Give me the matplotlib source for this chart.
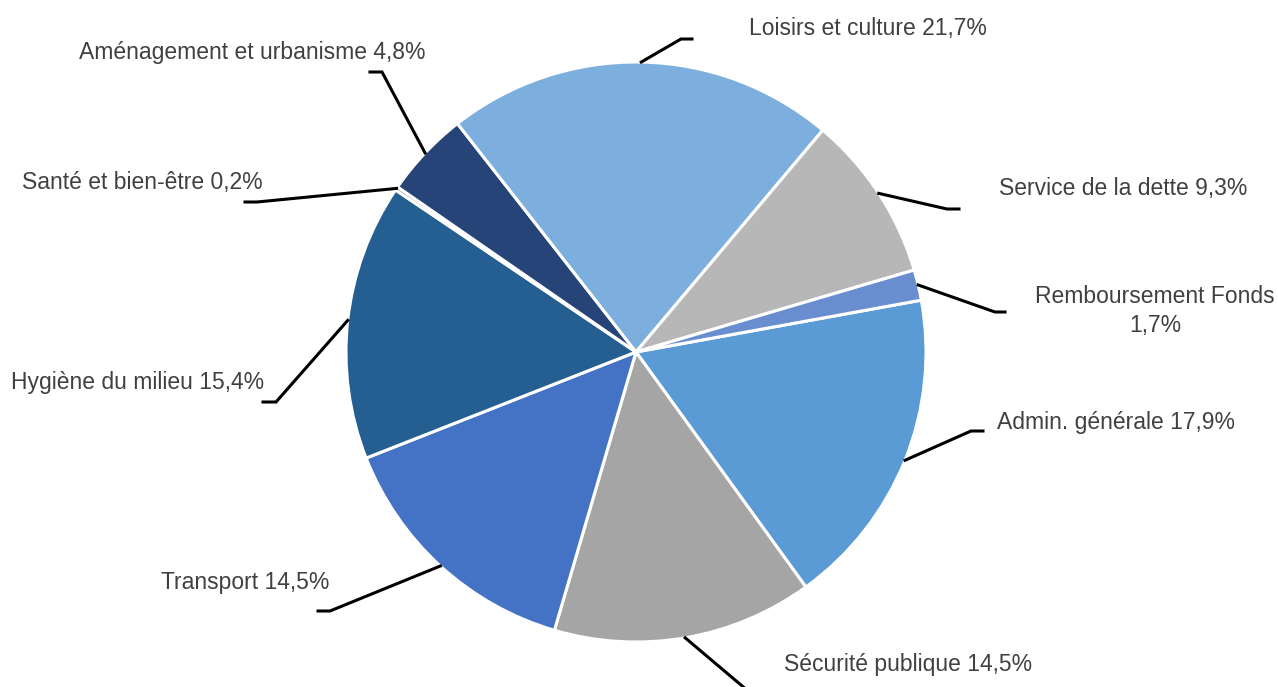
import matplotlib.pyplot as plt
import numpy as np

plt.rcParams['font.family'] = ['Liberation Sans', 'DejaVu Sans']

# Data, in the order of the slices (clockwise)
categories = ['Admin. générale', 'Sécurité publique', 'Transport', 'Hygiène du milieu',
              'Santé et bien-être', 'Aménagement et urbanisme', 'Loisirs et culture',
              'Service de la dette', 'Remboursement Fonds']
shares = [17.9, 14.5, 14.5, 15.4, 0.2, 4.8, 21.7, 9.3, 1.7]
colors = ['#5B9BD5', '#A5A5A5', '#4472C4', '#255E91', '#636363',
          '#264478', '#7CAFDD', '#B7B7B7', '#698ED0']

# Label placement in image pixels: elbow of leader, end of short tick, text centre
elbows = [(971, 431), (754, 696), (330, 611), (276, 402), (257, 202),
          (382, 72), (681, 39), (947, 209), (995, 312)]
tick_ends = [(983, 431), (766, 696), (318, 611), (263, 402), (245, 202),
             (370, 72), (692, 39), (959, 209), (1005, 312)]
text_pos = [(1116, 422), (908, 664), (245, 583), (138, 383), (142, 182),
            (252, 52), (868, 28), (1123, 188), (1155, 311)]

W, H = 1278, 687
fig = plt.figure(figsize=(W / 100, H / 100), dpi=100)
ax = fig.add_axes([0, 0, 1, 1])

cx, cy, r = 636, H - 352, 290
wedges, _ = ax.pie(shares, colors=colors, startangle=10.3, counterclock=False,
                   center=(cx, cy), radius=r, frame=True,
                   wedgeprops=dict(edgecolor='white', linewidth=2.2))
ax.set_xlim(0, W)
ax.set_ylim(0, H)
ax.axis('off')


def fmt(v):
    return f"{v:.1f}".replace('.', ',') + '%'


for i, w in enumerate(wedges):
    theta = np.deg2rad((w.theta1 + w.theta2) / 2)
    ax0 = cx + r * np.cos(theta)
    ay0 = cy + r * np.sin(theta)
    ex, ey = elbows[i]
    tx, ty = tick_ends[i]
    ax.plot([ax0, ex, tx], [ay0, H - ey, H - ty], color='black', lw=2.2,
            solid_joinstyle='miter', clip_on=True)
    if categories[i] == 'Remboursement Fonds':
        label = f"{categories[i]}\n{fmt(shares[i])}"
    else:
        label = f"{categories[i]} {fmt(shares[i])}"
    px, py = text_pos[i]
    ax.text(px, H - py, label, ha='center', va='center', fontsize=16.5,
            color='#404040', linespacing=1.3)

fig.savefig('out.png', dpi=100)
